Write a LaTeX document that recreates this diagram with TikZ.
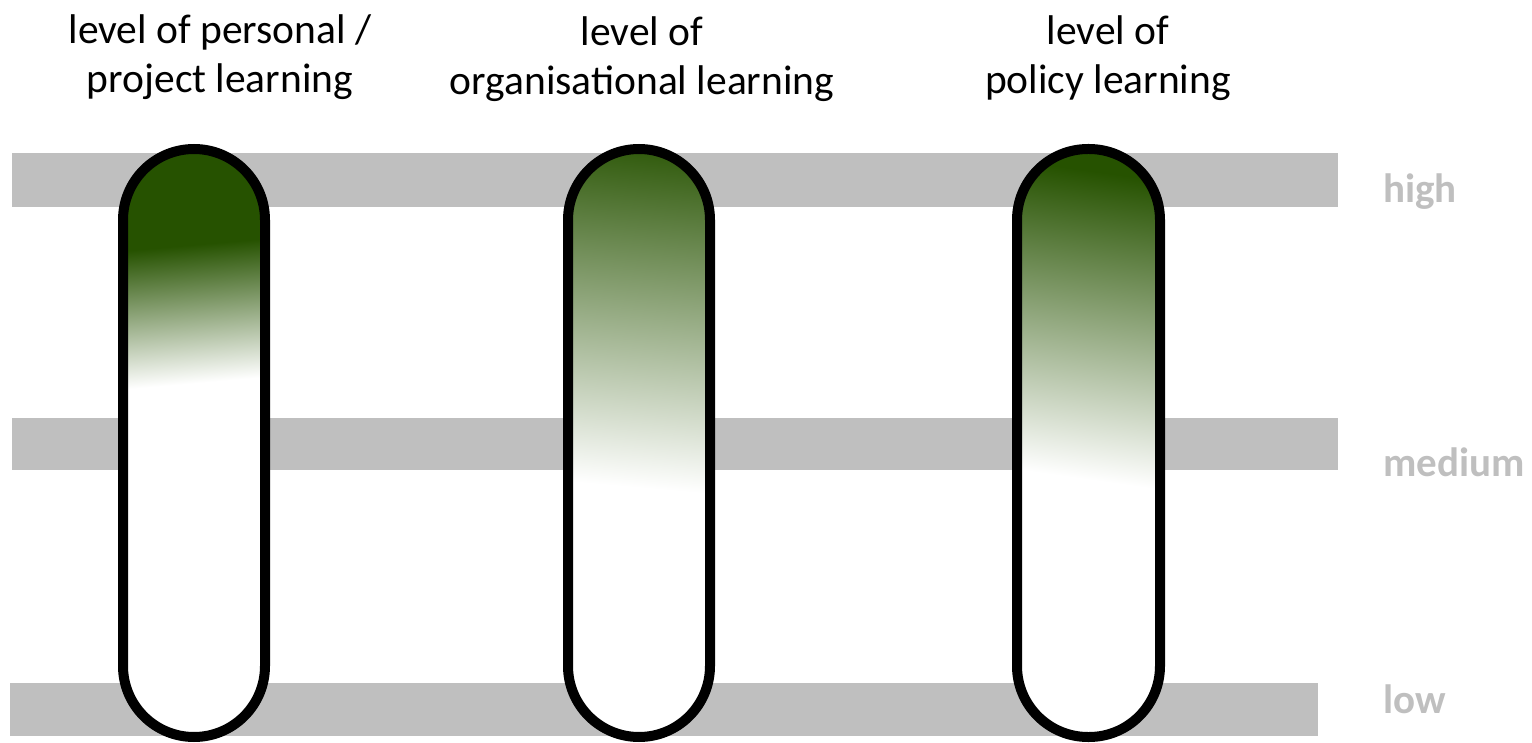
\documentclass[tikz,border=0pt]{standalone}
\usepackage{fontspec}
\setmainfont{Carlito}
\usepackage{tikz}
\definecolor{leafgreen}{RGB}{38,82,0}
\definecolor{bargray}{RGB}{191,191,191}
\def\capsuleoutline{\draw[line width=10pt, rounded corners=71pt]}
\def\capsuleclip{\clip[rounded corners=71pt]}

\begin{document}
\begin{tikzpicture}[x=1pt,y=-1pt,
  header/.style={align=center, inner sep=0pt, font=\fontsize{41.5}{49}\selectfont},
  levelname/.style={anchor=base west, inner sep=0pt, text=bargray, font=\fontsize{41}{49}\selectfont\bfseries}]
\useasboundingbox (0,0) rectangle (1532,743);
% grey level bars
\fill[bargray] (12,153) rectangle (1338,207);
\fill[bargray] (12,418) rectangle (1338,470);
\fill[bargray] (10,683) rectangle (1318,736);
\node (high) at (1383,203) [levelname] {high};
\node (medium) at (1383,476) [levelname] {medium};
\node (low) at (1383,713) [levelname] {low};
% headers
\node (personal) at (220,57) [header] {level of personal /\\project learning};
\node (organisational) at (642,59) [header] {level of\\organisational learning};
\node (policy) at (1108,58) [header] {level of\\policy learning};
% capsule 1
\begin{scope}
\capsuleclip (123,149) rectangle (265,737);
\fill[white] (100,140) rectangle (290,750);
\fill[leafgreen] (100,140) rectangle (290,258);
\begin{scope}[transform canvas={rotate around={5:(194,313)}}]
\shade[top color=leafgreen, bottom color=white] (60,245) rectangle (330,383);
\end{scope}
\end{scope}
\capsuleoutline (123,149) rectangle (265,737);
% capsule 2
\begin{scope}
\capsuleclip (568,149) rectangle (710,737);
\fill[white] (545,140) rectangle (735,750);
\fill[leafgreen!95!white] (545,140) rectangle (735,160);
\begin{scope}[transform canvas={rotate around={-5:(639,320)}}]
\shade[top color=leafgreen!95!white, bottom color=white] (505,150) rectangle (775,487);
\end{scope}
\end{scope}
\capsuleoutline (568,149) rectangle (710,737);
% capsule 3
\begin{scope}
\capsuleclip (1017,149) rectangle (1160,737);
\fill[white] (995,140) rectangle (1185,750);
\fill[leafgreen] (995,140) rectangle (1185,180);
\begin{scope}[transform canvas={rotate around={-8:(1088,330)}}]
\shade[top color=leafgreen, bottom color=white] (950,172) rectangle (1225,478);
\end{scope}
\end{scope}
\capsuleoutline (1017,149) rectangle (1160,737);
\end{tikzpicture}
\end{document}
